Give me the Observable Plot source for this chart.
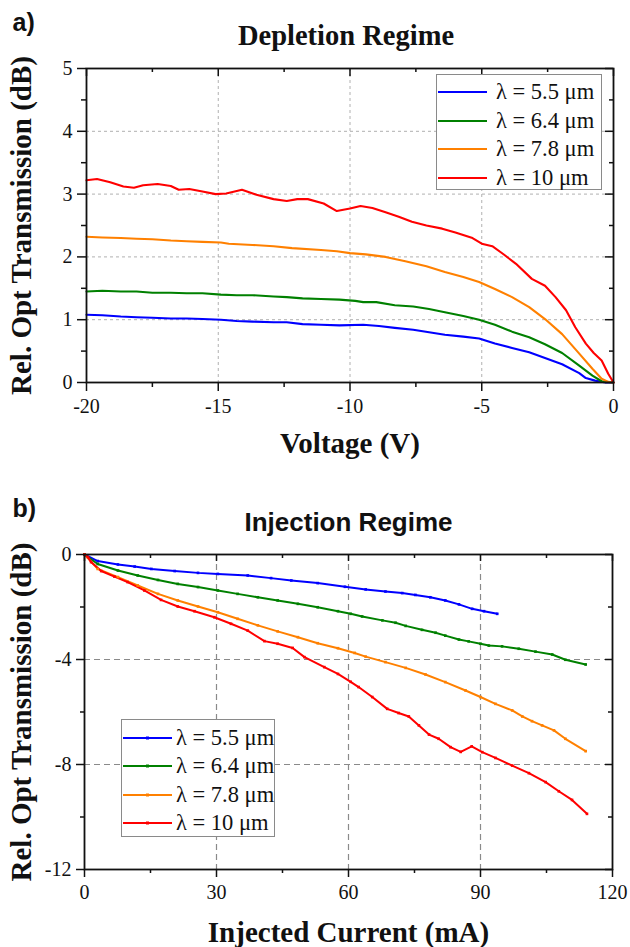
<!DOCTYPE html>
<html>
<head>
<meta charset="utf-8">
<script src="https://cdn.jsdelivr.net/npm/d3@7"></script>
<script src="https://cdn.jsdelivr.net/npm/@observablehq/plot@0.6"></script>
<style>
  html, body { margin: 0; padding: 0; background: white; }
  #wrap { position: relative; width: 630px; height: 947px; overflow: hidden; }
  #wrap svg { display: block; }
  #wrap g[aria-label="x-axis tick label"], #wrap g[aria-label="y-axis tick label"] { font-family: "Liberation Serif", "Times New Roman", serif; font-size: 20px; }
  .legend { position: absolute; background: white; border: 1px solid #8a8a8a; box-sizing: border-box; font-family: "Liberation Serif", "Times New Roman", serif; font-size: 22.5px; color: #111; }
  .legend .row { position: absolute; left: 0; height: 28px; display: flex; align-items: center; white-space: nowrap; }
  .legend .row svg { display: block; }
</style>
</head>
<body>
<div id="wrap"></div>
<script>
// ---------- data ----------
const seriesLabels = ["λ = 5.5 μm", "λ = 6.4 μm", "λ = 7.8 μm", "λ = 10 μm"];
const seriesColors = ["#0000ff", "#008000", "#ff8000", "#ff0000"];

// a) Depletion regime: [voltage (V), rel. transmission (dB)]
const dep55 = [[-20,1.08],[-19.4,1.07],[-18.7,1.05],[-18.1,1.04],[-17.5,1.03],[-16.8,1.02],[-16.2,1.02],[-15.6,1.01],[-14.9,1.0],[-14.3,0.98],[-13.7,0.97],[-12.9,0.96],[-12.4,0.96],[-11.8,0.93],[-11.1,0.92],[-10.4,0.91],[-9.5,0.92],[-8.9,0.90],[-8.3,0.87],[-7.6,0.84],[-7.0,0.80],[-6.4,0.76],[-5.7,0.73],[-5.1,0.70],[-4.5,0.62],[-3.85,0.55],[-3.2,0.48],[-2.6,0.39],[-1.95,0.29],[-1.3,0.15],[-1.05,0.07],[-0.7,0.03],[-0.3,0.0],[0,0]];
const dep64 = [[-20,1.45],[-19.4,1.46],[-18.7,1.45],[-18.1,1.45],[-17.5,1.43],[-16.8,1.43],[-16.2,1.42],[-15.6,1.42],[-14.9,1.40],[-14.3,1.39],[-13.7,1.39],[-12.9,1.37],[-12.4,1.36],[-11.8,1.34],[-11.1,1.33],[-10.4,1.32],[-9.8,1.30],[-9.5,1.28],[-9.0,1.28],[-8.3,1.23],[-7.6,1.21],[-7.0,1.17],[-6.4,1.12],[-5.7,1.06],[-5.1,1.0],[-4.5,0.92],[-3.85,0.81],[-3.2,0.72],[-2.6,0.61],[-1.95,0.47],[-1.3,0.27],[-0.8,0.11],[-0.45,0.02],[0,0]];
const dep78 = [[-20,2.32],[-19.4,2.31],[-18.7,2.30],[-18.1,2.29],[-17.5,2.28],[-16.8,2.26],[-16.2,2.25],[-15.6,2.24],[-14.9,2.23],[-14.6,2.21],[-13.7,2.19],[-12.9,2.17],[-12.2,2.14],[-11.1,2.11],[-10.5,2.09],[-10.0,2.06],[-9.4,2.04],[-8.65,2.0],[-7.9,1.93],[-7.1,1.85],[-6.4,1.76],[-5.7,1.68],[-5.1,1.60],[-4.5,1.49],[-3.85,1.36],[-3.2,1.20],[-2.6,1.01],[-1.95,0.77],[-1.3,0.46],[-0.8,0.22],[-0.45,0.06],[-0.2,0.01],[0,0]];
const dep10 = [[-20,3.22],[-19.6,3.24],[-19.1,3.19],[-18.6,3.12],[-18.2,3.10],[-17.85,3.14],[-17.3,3.16],[-16.8,3.13],[-16.5,3.07],[-16.1,3.08],[-15.6,3.04],[-15.1,3.0],[-14.7,3.01],[-14.1,3.07],[-13.55,2.99],[-12.9,2.92],[-12.4,2.89],[-12.0,2.92],[-11.6,2.92],[-11.0,2.85],[-10.5,2.73],[-10.0,2.77],[-9.6,2.81],[-9.15,2.78],[-8.65,2.71],[-8.15,2.64],[-7.65,2.56],[-7.1,2.50],[-6.5,2.45],[-6.0,2.39],[-5.35,2.30],[-5.0,2.21],[-4.6,2.17],[-4.2,2.05],[-3.7,1.89],[-3.1,1.65],[-2.6,1.54],[-2.2,1.36],[-1.8,1.15],[-1.45,0.88],[-1.05,0.62],[-0.75,0.47],[-0.45,0.35],[-0.2,0.14],[0,0]];

// b) Injection regime: [current (mA), rel. transmission (dB)]
const inj55 = [[0,0],[3,-0.25],[7.6,-0.38],[11.4,-0.46],[15.2,-0.55],[20.5,-0.63],[25.8,-0.70],[30.3,-0.74],[37.1,-0.80],[42.4,-0.90],[47,-0.99],[53,-1.09],[59.2,-1.23],[63.9,-1.33],[68.4,-1.41],[72.2,-1.47],[75.2,-1.54],[78.6,-1.63],[82,-1.75],[85.1,-1.90],[88.1,-2.07],[90.8,-2.16],[93.8,-2.26]];
const inj64 = [[0,0],[3,-0.36],[7.6,-0.61],[12.1,-0.80],[16.7,-0.97],[21.2,-1.12],[25.8,-1.24],[30.3,-1.37],[34.8,-1.50],[39.4,-1.63],[43.9,-1.75],[48.5,-1.88],[53,-2.01],[57.6,-2.16],[60.5,-2.26],[63.1,-2.36],[67.7,-2.51],[70.7,-2.60],[73,-2.72],[76.7,-2.87],[79.8,-2.98],[82,-3.09],[85.1,-3.24],[87.3,-3.31],[90,-3.40],[91.9,-3.47],[94.9,-3.50],[98.7,-3.59],[102.5,-3.70],[106.3,-3.81],[109.3,-4.01],[113.9,-4.19]];
const inj78 = [[0,0],[3,-0.55],[7.6,-0.86],[12.1,-1.18],[16.7,-1.50],[21.2,-1.75],[25.8,-1.98],[30.3,-2.20],[34.8,-2.45],[39.4,-2.70],[43.9,-2.93],[48.5,-3.15],[53,-3.38],[57.6,-3.57],[61.4,-3.75],[63.9,-3.89],[68.4,-4.10],[73,-4.32],[77.5,-4.57],[82,-4.86],[86.6,-5.18],[90,-5.43],[93.4,-5.69],[97.2,-5.94],[99.5,-6.17],[101.7,-6.35],[104,-6.51],[106.7,-6.70],[109.3,-7.02],[113.9,-7.49]];
const inj10 = [[0,0],[0.8,-0.1],[1.5,-0.29],[3.8,-0.63],[6.8,-0.84],[9.8,-1.05],[13.6,-1.37],[17.4,-1.73],[21.2,-1.98],[25,-2.16],[29.5,-2.39],[33.3,-2.64],[37.1,-2.90],[40.9,-3.30],[43.9,-3.40],[47.3,-3.56],[50,-3.91],[54.5,-4.29],[57.6,-4.55],[60.5,-4.85],[62.3,-5.05],[65.4,-5.43],[68.8,-5.88],[71.4,-6.04],[73.7,-6.17],[76,-6.51],[78.3,-6.86],[80.5,-7.02],[83.2,-7.34],[85.5,-7.52],[88,-7.31],[90.4,-7.53],[93.4,-7.75],[97.2,-8.04],[101,-8.33],[104.8,-8.67],[107.8,-9.02],[110.8,-9.35],[114.2,-9.88]];

// ticks
const depMajorX = [-20, -15, -10, -5, 0];
const depMinorX = [-17.5, -12.5, -7.5, -2.5];
const depMajorY = [0, 1, 2, 3, 4, 5];
const depMinorY = [0.5, 1.5, 2.5, 3.5, 4.5];
const depGridX = [-15, -10, -5];
const depGridY = [1, 2, 3, 4];

const injMajorX = [0, 30, 60, 90, 120];
const injMinorX = [15, 45, 75, 105];
const injMajorY = [0, -4, -8, -12];
const injMinorY = [-2, -6, -10];
const injGridX = [30, 60, 90];
const injGridY = [-4, -8];

const titles = ["Depletion Regime", "Injection Regime"];
const panelTags = ["a)", "b)"];
const yLabel = "Rel. Opt Transmission (dB)";
const xLabels = ["Voltage (V)", "Injected Current (mA)"];

// ---------- helpers ----------
const toRows = (sets) => sets.flatMap((s, i) => s.map(([x, y]) => ({series: seriesLabels[i], x, y})));
const depRows = toRows([dep55, dep64, dep78, dep10]);
const injRows = toRows([inj55, inj64, inj78, inj10]);
const SERIF = "'Liberation Serif', 'Times New Roman', serif";
const SANS = "'Liberation Sans', Arial, sans-serif";
const fmt = d => String(d);

function frameTicks({majorX, minorX, majorY, minorY, innerW, innerH, xPad, yPad, majLen, minLen, inMaj, inMin}) {
  return [
    Plot.axisX(majorX, {anchor: "bottom", tickSize: majLen, tickPadding: xPad, tickFormat: fmt, label: null, fontSize: 20, fontFamily: SERIF, strokeWidth: 1.5, stroke: "#111", fill: "#111"}),
    Plot.axisX(minorX, {anchor: "bottom", tickSize: minLen, tickFormat: () => "", label: null, strokeWidth: 1.5, stroke: "#111"}),
    Plot.axisY(majorY, {anchor: "left", tickSize: majLen, tickPadding: yPad, tickFormat: fmt, label: null, fontSize: 20, fontFamily: SERIF, strokeWidth: 1.5, stroke: "#111", fill: "#111"}),
    Plot.axisY(minorY, {anchor: "left", tickSize: minLen, tickFormat: () => "", label: null, strokeWidth: 1.5, stroke: "#111"}),
    Plot.tickX(majorX, {x: d => d, insetBottom: innerH - inMaj, stroke: "#111", strokeWidth: 1.5}),
    Plot.tickX(minorX, {x: d => d, insetBottom: innerH - inMin, stroke: "#111", strokeWidth: 1.5}),
    Plot.tickY(majorY, {y: d => d, insetLeft: innerW - inMaj, stroke: "#111", strokeWidth: 1.5}),
    Plot.tickY(minorY, {y: d => d, insetLeft: innerW - inMin, stroke: "#111", strokeWidth: 1.5})
  ];
}

function labels(i, titleFont, titleSize, titleDx) {
  return [
    Plot.text([titles[i]], {text: d => d, frameAnchor: "top", dx: titleDx, dy: -24, lineAnchor: "bottom", fontSize: titleSize, fontWeight: "bold", fontFamily: titleFont, fill: "#111"}),
    Plot.text([panelTags[i]], {text: d => d, frameAnchor: "top-left", textAnchor: "start", dx: 12 - (i === 0 ? 86 : 84), dy: -38, lineAnchor: "bottom", fontSize: 25, fontWeight: "bold", fontFamily: SANS, fill: "#111"}),
    Plot.text([yLabel], {text: d => d, frameAnchor: "left", rotate: -90, dx: 21 - (i === 0 ? 86 : 84), lineAnchor: "middle", textAnchor: "middle", fontSize: 29, fontWeight: "bold", fontFamily: SERIF, fill: "#111"}),
    Plot.text([xLabels[i]], {text: d => d, frameAnchor: "bottom", lineAnchor: "top", dy: i === 0 ? 50 : 52, fontSize: 29, fontWeight: "bold", fontFamily: SERIF, fill: "#111"})
  ];
}

const colorScale = {domain: seriesLabels, range: seriesColors};

// ---------- a) ----------
const aW = 630, aH = 470, aML = 86, aMR = 17, aMT = 68, aMB = 88;
const plotA = Plot.plot({
  width: aW, height: aH,
  marginLeft: aML, marginRight: aMR, marginTop: aMT, marginBottom: aMB,
  x: {domain: [-20, 0]},
  y: {domain: [0, 5]},
  color: colorScale,
  style: {fontFamily: SERIF, fontSize: "20px", background: "white", overflow: "visible"},
  marks: [
    Plot.ruleX(depGridX, {stroke: "#b0b0b0", strokeWidth: 1, strokeDasharray: "3,3"}),
    Plot.ruleY(depGridY, {stroke: "#b0b0b0", strokeWidth: 1, strokeDasharray: "3,3"}),
    Plot.line(depRows, {x: "x", y: "y", z: "series", stroke: "series", strokeWidth: 2.1}),
    Plot.frame({stroke: "#111", strokeWidth: 1.8}),
    ...frameTicks({majorX: depMajorX, minorX: depMinorX, majorY: depMajorY, minorY: depMinorY,
      innerW: aW - aML - aMR, innerH: aH - aMT - aMB, xPad: 7, yPad: 5, majLen: 9, minLen: 5, inMaj: 8, inMin: 4}),
    ...labels(0, SERIF, 28.5, -4)
  ]
});

// ---------- b) ----------
const bW = 630, bH = 477, bML = 84, bMR = 18, bMT = 84, bMB = 78;
const plotB = Plot.plot({
  width: bW, height: bH,
  marginLeft: bML, marginRight: bMR, marginTop: bMT, marginBottom: bMB,
  x: {domain: [0, 120]},
  y: {domain: [-12, 0]},
  color: colorScale,
  style: {fontFamily: SERIF, fontSize: "20px", background: "white", overflow: "visible"},
  marks: [
    Plot.ruleX(injGridX, {stroke: "#8a8a8a", strokeWidth: 1.2, strokeDasharray: "6,4"}),
    Plot.ruleY(injGridY, {stroke: "#8a8a8a", strokeWidth: 1.2, strokeDasharray: "6,4"}),
    Plot.line(injRows, {x: "x", y: "y", z: "series", stroke: "series", strokeWidth: 2}),
    Plot.dot(injRows, {x: "x", y: "y", fill: "series", symbol: "square", r: 1.5}),
    Plot.frame({stroke: "#111", strokeWidth: 1.8}),
    ...frameTicks({majorX: injMajorX, minorX: injMinorX, majorY: injMajorY, minorY: injMinorY,
      innerW: bW - bML - bMR, innerH: bH - bMT - bMB, xPad: 7, yPad: 5, majLen: 8, minLen: 4, inMaj: 7, inMin: 4}),
    ...labels(1, SANS, 26, 0)
  ]
});

const wrap = document.getElementById("wrap");
plotA.style.position = "absolute"; plotA.style.left = "0px"; plotA.style.top = "0px";
plotB.style.position = "absolute"; plotB.style.left = "0px"; plotB.style.top = "470px";
wrap.appendChild(plotA);
wrap.appendChild(plotB);

// force serif tick labels
wrap.querySelectorAll('g[aria-label="x-axis tick label"], g[aria-label="y-axis tick label"]').forEach(g => {
  g.setAttribute("font-family", "Liberation Serif, Times New Roman, serif");
  g.style.fontFamily = "'Liberation Serif', 'Times New Roman', serif";
  g.style.fontSize = "20px";
});

// ---------- legends ----------
function makeLegend(box, withMarker) {
  const div = document.createElement("div");
  div.className = "legend";
  Object.assign(div.style, {left: box.left + "px", top: box.top + "px", width: box.width + "px", height: box.height + "px",
    fontFamily: "'Liberation Serif', 'Times New Roman', serif"});
  seriesLabels.forEach((lab, i) => {
    const row = document.createElement("div");
    row.className = "row";
    row.style.top = (box.rowTop + i * box.rowStep - 14) + "px";
    row.style.left = "1px";
    const ns = "http://www.w3.org/2000/svg";
    const sw = document.createElementNS(ns, "svg");
    sw.setAttribute("width", box.sw); sw.setAttribute("height", 8);
    const ln = document.createElementNS(ns, "line");
    ln.setAttribute("x1", 0); ln.setAttribute("x2", box.sw); ln.setAttribute("y1", 4); ln.setAttribute("y2", 4);
    ln.setAttribute("stroke", seriesColors[i]); ln.setAttribute("stroke-width", 2.2);
    sw.appendChild(ln);
    if (withMarker) {
      const r = document.createElementNS(ns, "rect");
      r.setAttribute("x", box.sw / 2 - 1.5); r.setAttribute("y", 2.5); r.setAttribute("width", 3); r.setAttribute("height", 3);
      r.setAttribute("fill", seriesColors[i]);
      sw.appendChild(r);
    }
    row.appendChild(sw);
    const t = document.createElement("span");
    t.textContent = lab;
    t.style.marginLeft = box.gap + "px";
    row.appendChild(t);
    div.appendChild(row);
  });
  wrap.appendChild(div);
}
makeLegend({left: 436, top: 74, width: 166, height: 116, rowTop: 17, rowStep: 28.5, sw: 49, gap: 9}, false);
makeLegend({left: 121, top: 719, width: 154, height: 118, rowTop: 18, rowStep: 28.3, sw: 49, gap: 4}, true);
</script>
</body>
</html>
